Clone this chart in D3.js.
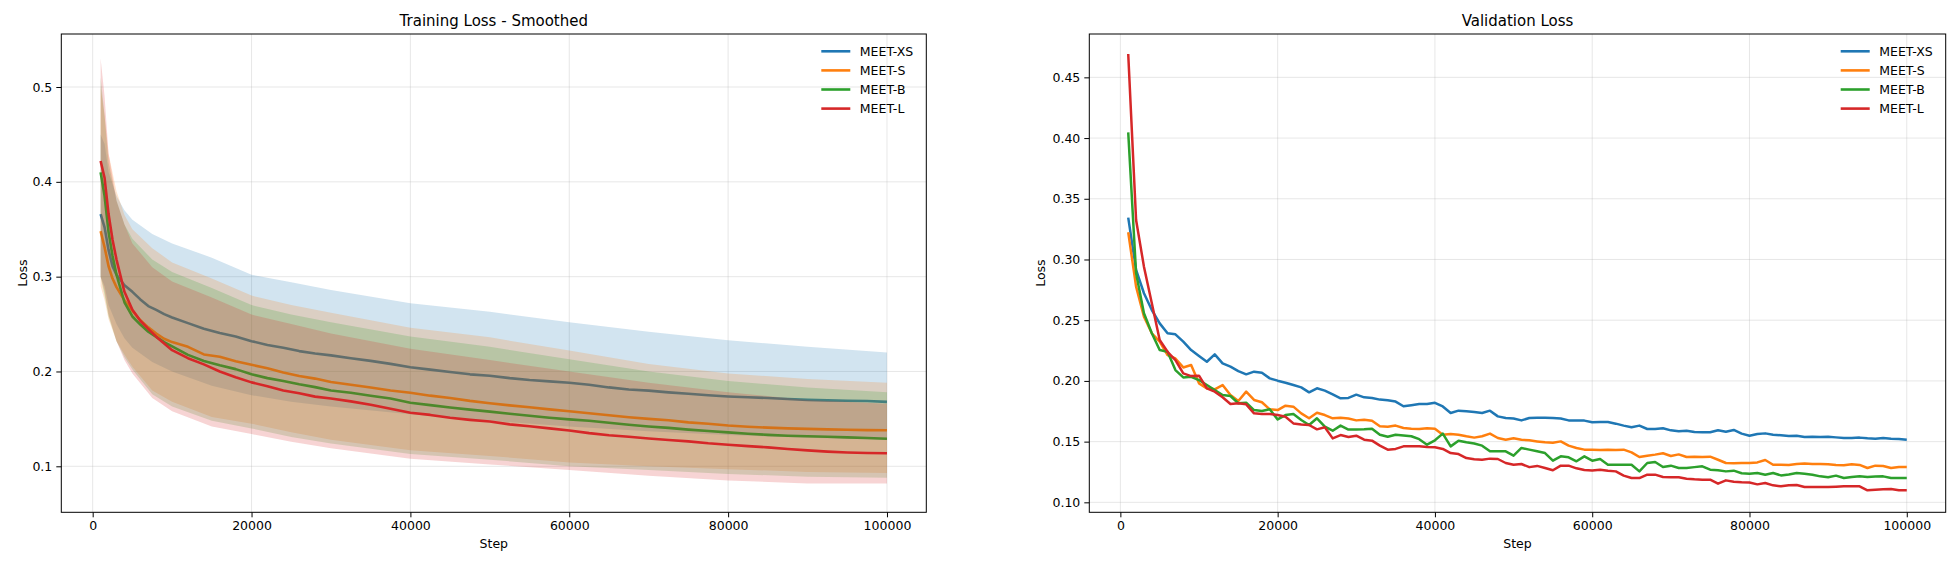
<!DOCTYPE html>
<html>
<head>
<meta charset="utf-8">
<script src="https://cdn.jsdelivr.net/npm/d3@7"></script>
<style>
body { margin: 0; background: #fff; }
text { font-family: "DejaVu Sans", sans-serif; fill: #000; }
</style>
</head>
<body>
<script>
// models + colours (matplotlib tab10)
const models = ["MEET-XS", "MEET-S", "MEET-B", "MEET-L"];
const colors = ["#1f77b4", "#ff7f0e", "#2ca02c", "#d62728"];

// ticks
const xTicks = [0, 20000, 40000, 60000, 80000, 100000];
const trainYTicks = [0.1, 0.2, 0.3, 0.4, 0.5];
const valYTicks = [0.10, 0.15, 0.20, 0.25, 0.30, 0.35, 0.40, 0.45];

// training loss, smoothed curves
const trainSteps = [1000, 1500, 2000, 2500, 3000, 4000, 5000, 6000, 7000, 8000, 9000, 10000,
  12000, 14000, 16000, 18000, 20000, 22000, 24000, 26000, 28000, 30000, 32500, 35000, 37500,
  40000, 42500, 45000, 47500, 50000, 52500, 55000, 57500, 60000, 62500, 65000, 67500, 70000,
  72500, 75000, 77500, 80000, 82500, 85000, 87500, 90000, 92500, 95000, 97500, 100000];
const trainXS = [0.366, 0.352, 0.328, 0.311, 0.302, 0.291, 0.284, 0.276, 0.269, 0.265, 0.2605, 0.257,
  0.251, 0.245, 0.2405, 0.237, 0.232, 0.228, 0.225, 0.2215, 0.219, 0.217, 0.214, 0.2112, 0.208,
  0.2045, 0.202, 0.1995, 0.197, 0.1955, 0.193, 0.191, 0.1896, 0.1882, 0.186, 0.1832, 0.181, 0.1798,
  0.178, 0.1765, 0.175, 0.1737, 0.1728, 0.172, 0.171, 0.1701, 0.1695, 0.1692, 0.1688, 0.168];
const trainS = [0.348, 0.331, 0.311, 0.298, 0.289, 0.275, 0.264, 0.254, 0.2465, 0.240, 0.2345, 0.231,
  0.226, 0.218, 0.2156, 0.2108, 0.207, 0.2035, 0.199, 0.1952, 0.1925, 0.189, 0.186, 0.1832, 0.180,
  0.1775, 0.1745, 0.172, 0.169, 0.1665, 0.1643, 0.1622, 0.160, 0.158, 0.156, 0.1538, 0.1518, 0.150,
  0.1485, 0.1463, 0.1448, 0.143, 0.1418, 0.1408, 0.140, 0.1395, 0.1389, 0.1385, 0.1382, 0.138];
const trainB = [0.410, 0.385, 0.347, 0.322, 0.302, 0.273, 0.258, 0.2495, 0.242, 0.2365, 0.231, 0.2265,
  0.2175, 0.211, 0.2065, 0.2025, 0.197, 0.193, 0.190, 0.1865, 0.1835, 0.180, 0.1775, 0.1745, 0.1715,
  0.167, 0.1645, 0.162, 0.1598, 0.1577, 0.1555, 0.1533, 0.1512, 0.1495, 0.148, 0.146, 0.1438, 0.142,
  0.1405, 0.1387, 0.1372, 0.1358, 0.1343, 0.1332, 0.1323, 0.1317, 0.1311, 0.1305, 0.1298, 0.129];
const trainL = [0.422, 0.404, 0.366, 0.339, 0.318, 0.284, 0.265, 0.2535, 0.245, 0.2367, 0.2295, 0.2225,
  0.214, 0.2075, 0.200, 0.194, 0.1885, 0.1845, 0.180, 0.177, 0.1735, 0.1715, 0.1685, 0.165, 0.1607,
  0.1565, 0.1542, 0.1512, 0.149, 0.1472, 0.1442, 0.1422, 0.140, 0.1378, 0.135, 0.1327, 0.1312, 0.1294,
  0.1277, 0.1263, 0.1243, 0.1228, 0.1213, 0.120, 0.1183, 0.1168, 0.1155, 0.1146, 0.114, 0.1137];

// spread of the raw (unsmoothed) training loss: upper / lower edge of each noisy trace
const bandSteps = [1000, 1500, 2000, 3000, 4000, 5000, 7500, 10000, 15000, 20000, 25000, 30000,
  40000, 50000, 60000, 70000, 80000, 90000, 100000];
const rawHiXS = [0.45, 0.44, 0.41, 0.385, 0.37, 0.36, 0.345, 0.335, 0.32, 0.302, 0.294, 0.286,
  0.272, 0.263, 0.252, 0.242, 0.233, 0.226, 0.22];
const rawLoXS = [0.30, 0.29, 0.27, 0.25, 0.235, 0.225, 0.21, 0.20, 0.185, 0.175, 0.168, 0.163,
  0.155, 0.148, 0.142, 0.137, 0.133, 0.13, 0.128];
const rawHiS = [0.50, 0.47, 0.43, 0.39, 0.365, 0.35, 0.33, 0.315, 0.298, 0.28, 0.27, 0.262,
  0.246, 0.236, 0.222, 0.208, 0.198, 0.192, 0.188];
const rawLoS = [0.29, 0.275, 0.255, 0.232, 0.218, 0.205, 0.18, 0.168, 0.152, 0.145, 0.136, 0.128,
  0.117, 0.111, 0.104, 0.10, 0.097, 0.094, 0.093];
const rawHiB = [0.51, 0.47, 0.42, 0.38, 0.355, 0.34, 0.318, 0.305, 0.288, 0.27, 0.26, 0.252,
  0.237, 0.226, 0.213, 0.20, 0.19, 0.183, 0.178];
const rawLoB = [0.30, 0.28, 0.258, 0.232, 0.215, 0.202, 0.176, 0.163, 0.148, 0.14, 0.131, 0.124,
  0.113, 0.107, 0.10, 0.096, 0.092, 0.089, 0.088];
const rawHiL = [0.53, 0.49, 0.43, 0.38, 0.355, 0.335, 0.31, 0.295, 0.278, 0.26, 0.25, 0.24,
  0.224, 0.212, 0.20, 0.188, 0.178, 0.17, 0.166];
const rawLoL = [0.30, 0.285, 0.26, 0.232, 0.212, 0.198, 0.172, 0.158, 0.142, 0.134, 0.126, 0.119,
  0.108, 0.102, 0.096, 0.09, 0.085, 0.082, 0.082];

// validation loss, one point per 1000 steps
const valSteps = [1000, 2000, 3000, 4000, 5000, 6000, 7000, 8000, 9000, 10000,
  11000, 12000, 13000, 14000, 15000, 16000, 17000, 18000, 19000, 20000,
  21000, 22000, 23000, 24000, 25000, 26000, 27000, 28000, 29000, 30000,
  31000, 32000, 33000, 34000, 35000, 36000, 37000, 38000, 39000, 40000,
  41000, 42000, 43000, 44000, 45000, 46000, 47000, 48000, 49000, 50000,
  51000, 52000, 53000, 54000, 55000, 56000, 57000, 58000, 59000, 60000,
  61000, 62000, 63000, 64000, 65000, 66000, 67000, 68000, 69000, 70000,
  71000, 72000, 73000, 74000, 75000, 76000, 77000, 78000, 79000, 80000,
  81000, 82000, 83000, 84000, 85000, 86000, 87000, 88000, 89000, 90000,
  91000, 92000, 93000, 94000, 95000, 96000, 97000, 98000, 99000, 100000];
const valXS = [0.3345, 0.2914, 0.2722, 0.2584, 0.2474, 0.2392, 0.2384, 0.2323, 0.2254, 0.2205,
  0.2158, 0.2219, 0.2144, 0.2117, 0.2081, 0.2054, 0.2076, 0.2067, 0.2021, 0.2002,
  0.1985, 0.1966, 0.1947, 0.1906, 0.1939, 0.1920, 0.1890, 0.1857, 0.1860, 0.1887,
  0.1865, 0.1860, 0.1846, 0.1840, 0.1830, 0.1791, 0.1800, 0.1810, 0.1810, 0.1820,
  0.1790, 0.1736, 0.1755, 0.1750, 0.1744, 0.1736, 0.1755, 0.1708, 0.1695, 0.1690,
  0.1675, 0.1695, 0.1697, 0.1697, 0.1695, 0.1690, 0.1675, 0.1675, 0.1673, 0.1659,
  0.1662, 0.1662, 0.1648, 0.1632, 0.1618, 0.1632, 0.1604, 0.1604, 0.1610, 0.1593,
  0.1585, 0.1590, 0.1579, 0.1577, 0.1577, 0.1593, 0.1582, 0.1596, 0.1566, 0.1549,
  0.1563, 0.1568, 0.1557, 0.1552, 0.1546, 0.1549, 0.1538, 0.1541, 0.1538, 0.1541,
  0.1535, 0.1530, 0.1530, 0.1533, 0.1527, 0.1524, 0.1530, 0.1524, 0.1522, 0.1516];
const valS = [0.3224, 0.2777, 0.2529, 0.2392, 0.2323, 0.2213, 0.2185, 0.2111, 0.2131, 0.1980,
  0.1939, 0.1931, 0.1966, 0.1884, 0.1835, 0.1912, 0.1843, 0.1824, 0.1766, 0.1760,
  0.1796, 0.1788, 0.1733, 0.1692, 0.1738, 0.1719, 0.1692, 0.1697, 0.1690, 0.1675,
  0.1681, 0.1672, 0.1626, 0.1623, 0.1632, 0.1612, 0.1607, 0.1604, 0.1610, 0.1607,
  0.1557, 0.1563, 0.1557, 0.1544, 0.1533, 0.1544, 0.1566, 0.1530, 0.1516, 0.1527,
  0.1516, 0.1511, 0.1502, 0.1494, 0.1491, 0.1502, 0.1467, 0.1448, 0.1434, 0.1434,
  0.1431, 0.1434, 0.1431, 0.1434, 0.1412, 0.1373, 0.1384, 0.1393, 0.1404, 0.1382,
  0.1395, 0.1373, 0.1376, 0.1373, 0.1376, 0.1351, 0.1324, 0.1321, 0.1324, 0.1324,
  0.1329, 0.1349, 0.1310, 0.1310, 0.1308, 0.1316, 0.1319, 0.1316, 0.1316, 0.1313,
  0.1308, 0.1305, 0.1313, 0.1308, 0.1283, 0.1302, 0.1299, 0.1283, 0.1291, 0.1291];
const valB = [0.4047, 0.2886, 0.2557, 0.2392, 0.2254, 0.2240, 0.2089, 0.2029, 0.2034, 0.2007,
  0.1966, 0.1925, 0.1884, 0.1876, 0.1816, 0.1821, 0.1760, 0.1752, 0.1766, 0.1683,
  0.1719, 0.1727, 0.1678, 0.1637, 0.1692, 0.1623, 0.1590, 0.1632, 0.1599, 0.1599,
  0.1602, 0.1607, 0.1557, 0.1540, 0.1557, 0.1550, 0.1544, 0.1520, 0.1475, 0.1511,
  0.1566, 0.1461, 0.1508, 0.1495, 0.1485, 0.1467, 0.1420, 0.1420, 0.1420, 0.1384,
  0.1448, 0.1434, 0.1420, 0.1406, 0.1343, 0.1379, 0.1371, 0.1338, 0.1379, 0.1343,
  0.1357, 0.1310, 0.1310, 0.1310, 0.1310, 0.1255, 0.1324, 0.1332, 0.1291, 0.1302,
  0.1283, 0.1283, 0.1290, 0.1297, 0.1269, 0.1265, 0.1255, 0.1261, 0.1240, 0.1236,
  0.1242, 0.1228, 0.1242, 0.1222, 0.1230, 0.1242, 0.1236, 0.1228, 0.1214, 0.1206,
  0.1220, 0.1200, 0.1209, 0.1214, 0.1209, 0.1212, 0.1214, 0.1200, 0.1200, 0.1200];
const valL = [0.4692, 0.3325, 0.2941, 0.2639, 0.2337, 0.2240, 0.2172, 0.2062, 0.2040, 0.2043,
  0.1939, 0.1911, 0.1865, 0.1810, 0.1816, 0.1807, 0.1733, 0.1727, 0.1727, 0.1719,
  0.1705, 0.1650, 0.1642, 0.1637, 0.1601, 0.1618, 0.1527, 0.1554, 0.1538, 0.1549,
  0.1516, 0.1508, 0.1467, 0.1434, 0.1440, 0.1461, 0.1461, 0.1461, 0.1455, 0.1453,
  0.1440, 0.1406, 0.1398, 0.1365, 0.1355, 0.1351, 0.1360, 0.1357, 0.1324, 0.1310,
  0.1316, 0.1290, 0.1300, 0.1283, 0.1264, 0.1302, 0.1302, 0.1280, 0.1266, 0.1262,
  0.1269, 0.1261, 0.1255, 0.1220, 0.1200, 0.1200, 0.1228, 0.1228, 0.1209, 0.1206,
  0.1206, 0.1195, 0.1190, 0.1187, 0.1187, 0.1154, 0.1181, 0.1170, 0.1165, 0.1163,
  0.1148, 0.1159, 0.1140, 0.1132, 0.1140, 0.1143, 0.1126, 0.1126, 0.1126, 0.1126,
  0.1129, 0.1132, 0.1132, 0.1132, 0.1099, 0.1104, 0.1107, 0.1110, 0.1099, 0.1099];

const trainSmooth = [trainXS, trainS, trainB, trainL];
const rawHi = [rawHiXS, rawHiS, rawHiB, rawHiL];
const rawLo = [rawLoXS, rawLoS, rawLoB, rawLoL];
const valSeries = [valXS, valS, valB, valL];

const W = 1960, H = 566;
const fs = 12.5;

const svg = d3.select("body").append("svg")
  .attr("width", W)
  .attr("height", H)
  .style("display", "block");

// one subplot: frame, grid, axes, labels
function panel(id, left, right, yDomain, yTicks, yFmt, title, labelX) {
  const top = 34, bottom = 512.3;
  const x = d3.scaleLinear().domain([-3950, 104950]).range([left, right]);
  const y = d3.scaleLinear().domain(yDomain).range([bottom, top]);

  const g = svg.append("g");

  svg.append("clipPath").attr("id", id)
    .append("rect").attr("x", left).attr("y", top)
    .attr("width", right - left).attr("height", bottom - top);

  // grid
  g.append("g").selectAll("line").data(xTicks).join("line")
    .attr("x1", d => x(d)).attr("x2", d => x(d))
    .attr("y1", top).attr("y2", bottom)
    .attr("stroke", "#b0b0b0").attr("stroke-opacity", 0.3).attr("stroke-width", 1);
  g.append("g").selectAll("line").data(yTicks).join("line")
    .attr("x1", left).attr("x2", right)
    .attr("y1", d => y(d)).attr("y2", d => y(d))
    .attr("stroke", "#b0b0b0").attr("stroke-opacity", 0.3).attr("stroke-width", 1);

  const plot = g.append("g").attr("clip-path", `url(#${id})`);

  // axes
  const xAxis = g.append("g")
    .attr("transform", `translate(0,${bottom})`)
    .call(d3.axisBottom(x).tickValues(xTicks).tickFormat(d3.format("d"))
      .tickSize(5).tickPadding(4).tickSizeOuter(0));
  const yAxis = g.append("g")
    .attr("transform", `translate(${left},0)`)
    .call(d3.axisLeft(y).tickValues(yTicks).tickFormat(d3.format(yFmt))
      .tickSize(5).tickPadding(4).tickSizeOuter(0));
  [xAxis, yAxis].forEach(a => {
    a.select(".domain").remove();
    a.selectAll("line").attr("stroke", "#000").attr("stroke-width", 1);
    a.selectAll("text").attr("font-size", fs).attr("font-family", "DejaVu Sans").attr("fill", "#000");
  });

  // frame
  g.append("rect")
    .attr("x", left).attr("y", top)
    .attr("width", right - left).attr("height", bottom - top)
    .attr("fill", "none").attr("stroke", "#000").attr("stroke-width", 1);

  g.append("text")
    .attr("x", (left + right) / 2).attr("y", 26)
    .attr("text-anchor", "middle").attr("font-size", 15)
    .text(title);
  g.append("text")
    .attr("x", (left + right) / 2).attr("y", 548)
    .attr("text-anchor", "middle").attr("font-size", fs)
    .text("Step");
  g.append("text")
    .attr("transform", `translate(${labelX},${(top + bottom) / 2}) rotate(-90)`)
    .attr("text-anchor", "middle").attr("font-size", fs)
    .text("Loss");

  // legend (no frame)
  const lg = g.append("g").attr("transform", `translate(${right - 105},51.3)`);
  models.forEach((m, i) => {
    lg.append("line")
      .attr("x1", 0).attr("x2", 29)
      .attr("y1", i * 19.1).attr("y2", i * 19.1)
      .attr("stroke", colors[i]).attr("stroke-width", 2.6);
    lg.append("text")
      .attr("x", 38.5).attr("y", i * 19.1 + 4.5)
      .attr("font-size", fs)
      .text(m);
  });

  return { x, y, plot };
}

// --- Training loss (smoothed) ---
const p1 = panel("clipTrain", 61.3, 926.3, [0.0515, 0.5559], trainYTicks, ".1f",
  "Training Loss - Smoothed", 26.6);

models.forEach((m, i) => {
  const band = d3.area()
    .x((d, j) => p1.x(bandSteps[j]))
    .y0((d, j) => p1.y(rawLo[i][j]))
    .y1((d, j) => p1.y(rawHi[i][j]));
  p1.plot.append("path")
    .datum(bandSteps)
    .attr("d", band)
    .attr("fill", colors[i])
    .attr("fill-opacity", 0.2);

  const line = d3.line()
    .x((d, j) => p1.x(trainSteps[j]))
    .y(d => p1.y(d));
  p1.plot.append("path")
    .datum(trainSmooth[i])
    .attr("d", line)
    .attr("fill", "none")
    .attr("stroke", colors[i])
    .attr("stroke-width", 2.6)
    .attr("stroke-linejoin", "round");
});

// --- Validation loss ---
const p2 = panel("clipVal", 1089.3, 1945.7, [0.0918, 0.4857], valYTicks, ".2f",
  "Validation Loss", 1045);

models.forEach((m, i) => {
  const line = d3.line()
    .x((d, j) => p2.x(valSteps[j]))
    .y(d => p2.y(d));
  p2.plot.append("path")
    .datum(valSeries[i])
    .attr("d", line)
    .attr("fill", "none")
    .attr("stroke", colors[i])
    .attr("stroke-width", 2.5)
    .attr("stroke-linejoin", "round");
});
</script>
</body>
</html>
